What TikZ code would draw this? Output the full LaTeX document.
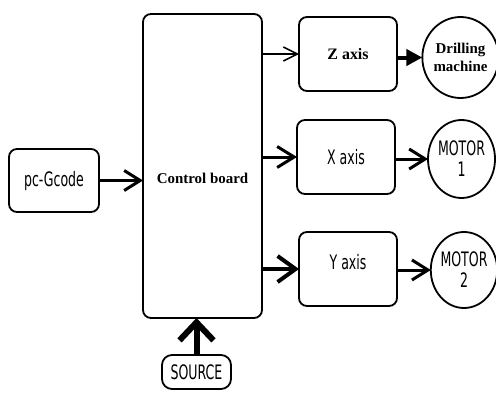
\documentclass[tikz,border=0pt]{standalone}
\usepackage{fontspec}
\setmainfont{Liberation Serif}
\newfontfamily\narrowsans{DejaVu Sans}[FakeStretch=0.63]
\usetikzlibrary{arrows.meta,shapes.geometric}

\tikzset{
  box/.style={draw, line width=1.8bp, rounded corners=8bp, inner sep=0pt, outer sep=0pt, align=center},
  motor/.style={draw, ellipse, line width=1.8bp, inner sep=0pt, outer sep=0pt, align=center},
  serif/.style={font=\bfseries\fontsize{15}{18}\selectfont},
  sans/.style={font=\narrowsans\fontsize{20}{21}\selectfont},
  feed/.style n args={3}{line width=#1, -{Straight Barb[length=#2, width=#3]}}
}

\begin{document}
\begin{tikzpicture}[x=1bp,y=1bp]
    \useasboundingbox (0,0) rectangle (496,392);
    % blocks
    \node[box, serif, minimum width=119bp, minimum height=304bp] (ctrl) at (202.5,226) {\raisebox{-17bp}[0pt][0pt]{Control board}};
    \node[box, sans, minimum width=90bp, minimum height=63bp] (pc) at (54,211.5) {pc-Gcode};
    \node[box, sans, minimum width=69bp, minimum height=34bp, rounded corners=10bp] (src) at (196.5,20) {SOURCE};
    \node[box, serif, font=\bfseries\fontsize{16}{18}\selectfont, minimum width=98bp, minimum height=74bp] (zax) at (348,338) {Z axis};
    \node[box, sans, minimum width=98bp, minimum height=74bp] (xax) at (346,235) {X axis};
    \node[box, sans, minimum width=98bp, minimum height=74bp] (yax) at (348,123) {\raisebox{0bp}[0pt][0pt]{Y axis}};
    % outputs
    \node[motor, serif, minimum width=69bp, minimum height=81bp] (drill) at (460.5,334.5) {Drilling\\machine};
    \node[motor, sans, minimum width=67bp, minimum height=78bp] (mot1) at (461.5,233) {MOTOR\\1};
    \node[motor, sans, minimum width=64bp, minimum height=76bp] (mot2) at (464,122) {MOTOR\\2};
    % connectors
    \draw[feed={3bp}{16bp}{20bp}] (pc.east) -- (pc.east -| ctrl.west);
    \draw[feed={1.5bp}{14bp}{14bp}] (ctrl.east |- zax.west) -- (zax.west);
    \draw[feed={3bp}{17bp}{21bp}] (ctrl.east |- xax.west) -- (xax.west);
    \draw[feed={4bp}{18bp}{26bp}] (ctrl.east |- yax.west) -- (yax.west);
    \draw[line width=4bp, -{Triangle[length=16bp, width=16bp]}] (zax.east |- drill.west) -- (drill.west);
    \draw[feed={3bp}{16bp}{20bp}] (xax.east |- mot1.west) -- (mot1.west);
    \draw[feed={3bp}{16bp}{20bp}] (yax.east |- mot2.west) -- (mot2.west);
    \draw[feed={6bp}{18bp}{34bp}] (src.north) -- (src.north |- ctrl.south);
  \end{tikzpicture}
\end{document}
